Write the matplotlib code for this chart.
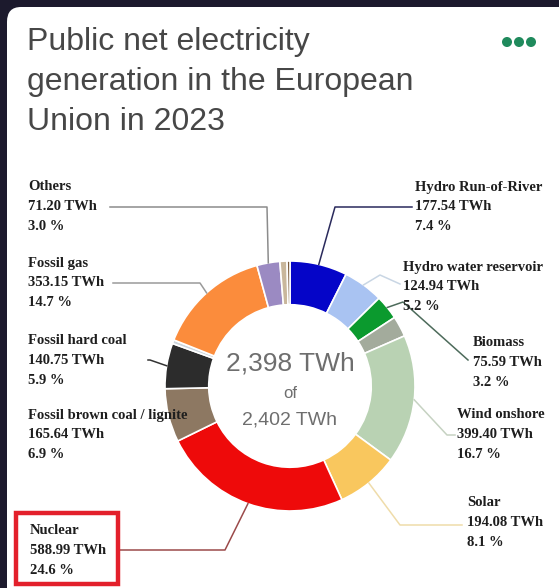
import numpy as np
import matplotlib.pyplot as plt
from matplotlib.patches import FancyBboxPatch, Rectangle, Circle

# ----- Data -----
sources = ["Hydro Run-of-River", "Hydro water reservoir", "Biomass", "Wind offshore",
           "Wind onshore", "Solar", "Nuclear", "Fossil brown coal / lignite",
           "Fossil hard coal", "Fossil oil", "Fossil gas", "Others", "Waste", "Geothermal"]
twh = [177.54, 124.94, 75.59, 64.0, 399.40, 194.08, 588.99, 165.64,
       140.75, 11.7, 353.15, 71.20, 22.0, 9.0]
colors = ["#0505c8", "#a9c3f2", "#0b9a2e", "#a3ab9c", "#b9d2b3", "#f9c75e", "#ee0a0a",
          "#8d7862", "#2c2c2c", "#cdd5dc", "#fb8c3c", "#9b8ac2", "#c9b79c", "#7b5b3b"]
total_all = 2402
title_lines = ["Public net electricity", "generation in the European", "Union in 2023"]

# ----- Layout (pixels, origin top-left) -----
W, H = 559, 588
cx, cy, R = 290, 386, 125
ring = 0.35

# text position (x, first line y) and leader path from wedge to text
labels = {
    "Others": ((28, 187), [(267, 207), (110, 207)], "#8c8c8c"),
    "Fossil gas": ((28, 263), [(200, 283), (113, 283)], "#9a9a9a"),
    "Fossil hard coal": ((28, 340), [(150, 360), (148, 360)], "#333333"),
    "Fossil brown coal / lignite": ((28, 415), None, None),
    "Nuclear": ((30, 530), [(225, 550), (118, 550)], "#9b4a4a"),
    "Hydro Run-of-River": ((415, 187), [(335, 207), (412, 207)], "#2a2a5c"),
    "Hydro water reservoir": ((403, 267), [(380, 275), (400, 284)], "#c9d6e4"),
    "Biomass": ((473, 342), [(403, 302), (468, 360)], "#4d6b5b"),
    "Wind onshore": ((457, 415), [(447, 435), (455, 435)], "#c6d2c2"),
    "Solar": ((467, 503), [(400, 525), (462, 525)], "#efdcaa"),
}

fig = plt.figure(figsize=(W / 100, H / 100), dpi=100)
fig.patch.set_facecolor("#1c1a2d")

# white card
card = FancyBboxPatch((7 / W, -0.2), 1.2, 1.2 - 7 / H,
                      boxstyle="round,pad=0,rounding_size=0.025",
                      transform=fig.transFigure, facecolor="white", edgecolor="none",
                      zorder=-10)
fig.patches.append(card)

# ----- Donut -----
ax_d = fig.add_axes([(cx - R) / W, (H - cy - R) / H, 2 * R / W, 2 * R / H])
wedges, _ = ax_d.pie(twh, colors=colors, startangle=90, counterclock=False, radius=1,
                     wedgeprops=dict(width=ring, edgecolor="white", linewidth=1.2))
ax_d.set_xlim(-1, 1)
ax_d.set_ylim(-1, 1)
ax_d.axis("off")

# ----- Overlay for texts -----
ax = fig.add_axes([0, 0, 1, 1])
ax.set_xlim(0, W)
ax.set_ylim(H, 0)
ax.axis("off")
ax.patch.set_alpha(0)

for i, line in enumerate(title_lines):
    ax.text(27, 50 + 40 * i, line, fontsize=23, family="Liberation Sans",
            color="#474747", va="baseline")

for x in (507, 519, 531):
    ax.add_patch(Circle((x, 42), 4.3, color="#1f8a5c"))

total = sum(twh)
ax.text(cx, 363, f"{total:,.0f} TWh", fontsize=19, family="Liberation Sans",
        color="#6e6e6e", ha="center", va="center")
ax.text(cx, 393, "of", fontsize=12, family="Liberation Sans",
        color="#6e6e6e", ha="center", va="center")
ax.text(cx, 420, f"{total_all:,} TWh", fontsize=14, family="Liberation Sans",
        color="#6e6e6e", ha="center", va="center")

to_px = ax_d.transData + ax.transData.inverted()
for w, name, val in zip(wedges, sources, twh):
    if name not in labels:
        continue
    (tx, ty), path, lc = labels[name]
    lines = [name, f"{val:.2f} TWh", f"{val / total * 100:.1f} %"]
    for i, s in enumerate(lines):
        ax.text(tx, ty + 20 * i, s, fontsize=10.5, family="Liberation Serif",
                weight="bold", color="#1e1e1e", va="center", zorder=5)
    if path:
        mid = np.deg2rad((w.theta1 + w.theta2) / 2)
        ax0 = to_px.transform((np.cos(mid), np.sin(mid)))
        pts = np.array([ax0] + path)
        ax.plot(pts[:, 0], pts[:, 1], color=lc, lw=1.1, zorder=4)

# red box around nuclear
ax.add_patch(Rectangle((16, 513), 102, 71, fill=False, edgecolor="#e3202b", lw=3.2,
                       zorder=6))

fig.savefig("out.png", dpi=100, facecolor=fig.get_facecolor())
